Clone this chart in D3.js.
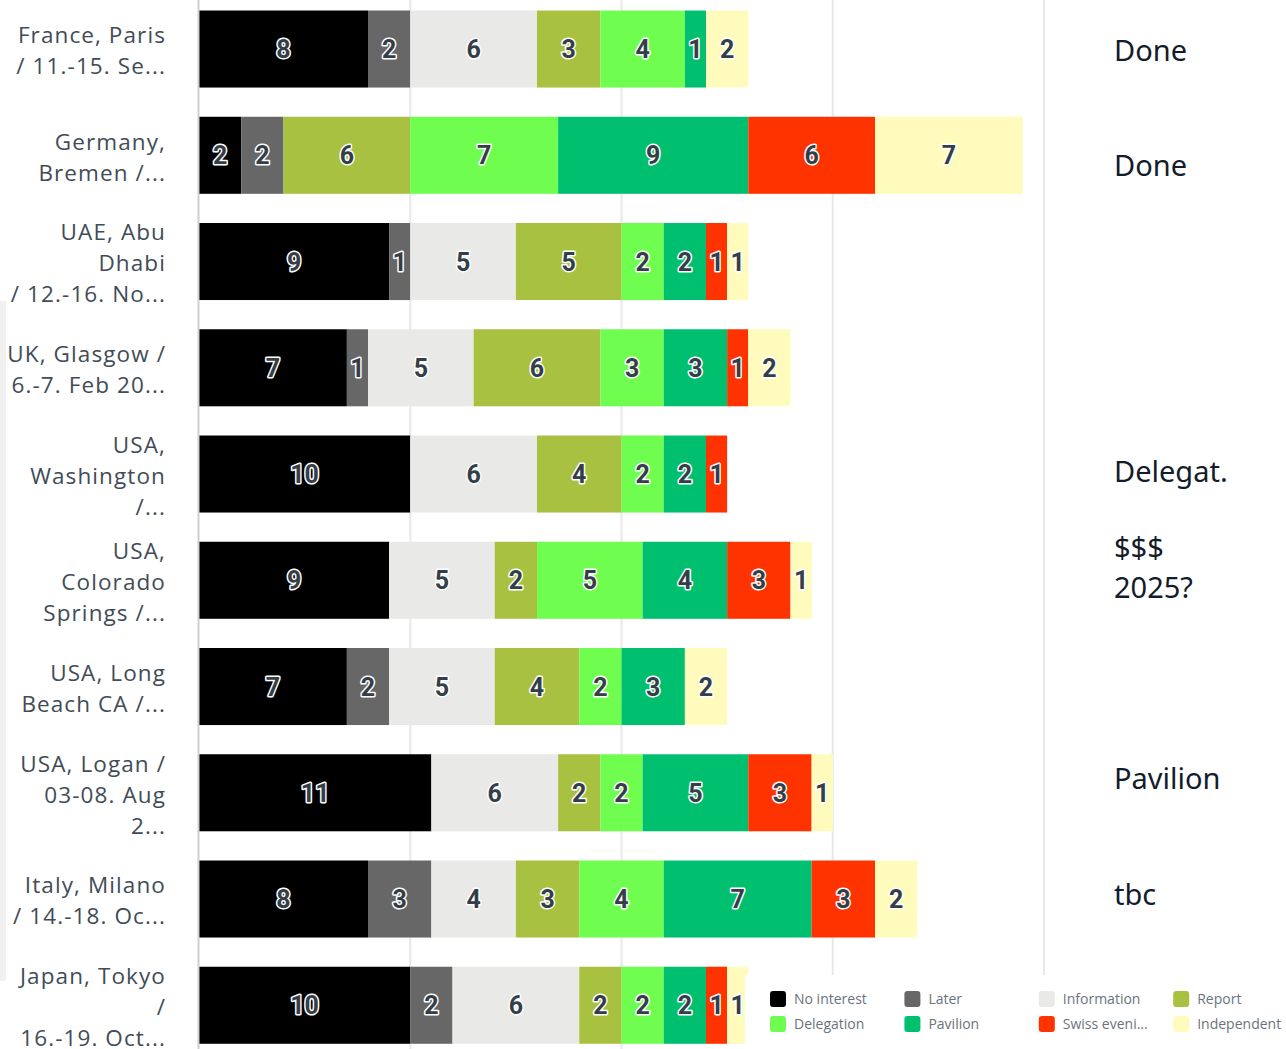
<!DOCTYPE html>
<html>
<head>
  <meta charset="utf-8" />
  <script src="https://d3js.org/d3.v7.min.js"></script>
  <style>
    * {
      margin: 0;
      padding: 0;
      box-sizing: border-box;
    }

    body {
      background-color: #ffffff;
      overflow: hidden;
    }

    svg {
      display: block;
    }

    .row-label {
      font-family: "Open Sans", sans-serif;
      font-size: 22.5px;
      letter-spacing: 1.1px;
      fill: #414c57;
    }

    .value-label {
      font-family: Roboto, sans-serif;
      font-weight: 700;
      font-size: 25px;
      fill: #333e48;
      stroke: #ffffff;
      stroke-width: 3px;
      paint-order: stroke;
      stroke-linejoin: round;
    }

    .note {
      font-family: "Noto Sans", sans-serif;
      font-size: 29px;
      fill: #121c2b;
    }

    .legend-text {
      font-family: "Open Sans", sans-serif;
      font-size: 14px;
      fill: #6a737d;
    }
  </style>
</head>
<body>
  <svg></svg>

  <script>
    const width = 1286;
    const height = 1049;

    // Row labels (already wrapped and truncated like the survey tool does)
    const events = [
      ["France, Paris", "/ 11.-15. Se..."],
      ["Germany,", "Bremen /..."],
      ["UAE, Abu", "Dhabi", "/ 12.-16. No..."],
      ["UK, Glasgow /", "6.-7. Feb 20..."],
      ["USA,", "Washington", "/..."],
      ["USA,", "Colorado", "Springs /..."],
      ["USA, Long", "Beach CA /..."],
      ["USA, Logan /", "03-08. Aug", "2..."],
      ["Italy, Milano", "/ 14.-18. Oc..."],
      ["Japan, Tokyo", "/", "16.-19. Oct..."]
    ];

    // Answer categories (stack order) and legend labels
    const categories = ["No interest", "Later", "Information", "Report", "Delegation", "Pavilion", "Swiss eveni...", "Independent"];
    const colors = ["#000000", "#676767", "#e9e9e7", "#a8c140", "#6ffd4f", "#00bf6f", "#ff3300", "#fffbbd"];

    // Counts per category, one value per event (same order as events)
    const noInterest  = [8, 2, 9, 7, 10, 9, 7, 11, 8, 10];
    const later       = [2, 2, 1, 1, 0, 0, 2, 0, 3, 2];
    const information = [6, 0, 5, 5, 6, 5, 5, 6, 4, 6];
    const report      = [3, 6, 5, 6, 4, 2, 4, 2, 3, 2];
    const delegation  = [4, 7, 2, 3, 2, 5, 2, 2, 4, 2];
    const pavilion    = [1, 9, 2, 3, 2, 4, 3, 5, 7, 2];
    const swissEvening = [0, 6, 1, 1, 1, 3, 0, 3, 3, 1];
    const independent = [2, 7, 1, 2, 0, 1, 2, 1, 2, 1];

    const xTicks = [0, 10, 20, 30, 40];

    // Hand-written notes on the right side: row index + text lines
    const notes = [
      { row: 0, lines: ["Done"] },
      { row: 1, lines: ["Done"] },
      { row: 4, lines: ["Delegat."] },
      { row: 5, lines: ["$$$", "2025?"] },
      { row: 7, lines: ["Pavilion"] },
      { row: 8, lines: ["tbc"] }
    ];
    const noteNudge = [2, 11, -2, -12, -14, -4]; // notes were placed by hand, not centred

    const series = [noInterest, later, information, report, delegation, pavilion, swissEvening, independent];

    // Build one record per event for d3.stack
    const table = events.map((e, i) => {
      const row = { idx: i };
      categories.forEach((c, k) => { row[c] = series[k][i]; });
      return row;
    });

    const stacked = d3.stack().keys(categories)(table);

    const svg = d3.select("svg").attr("width", width).attr("height", height);

    const x = d3.scaleLinear().domain([0, 40]).range([199, 1044]);

    const y = d3.scaleBand()
      .domain(d3.range(events.length))
      .range([-18.7, 1073])
      .paddingInner(0.275)
      .paddingOuter(0.275);

    // light strip on the far left edge
    svg.append("rect")
      .attr("x", 0).attr("y", 301).attr("width", 6).attr("height", 680)
      .attr("fill", "#f1f1f1");

    // Gridlines
    svg.append("g")
      .selectAll("line")
      .data(xTicks.slice(1))
      .join("line")
      .attr("x1", d => x(d)).attr("x2", d => x(d))
      .attr("y1", 0).attr("y2", d => d === 40 ? 975 : height)
      .attr("stroke", "#e8e8e8")
      .attr("stroke-width", 2);

    // Bars
    const layers = svg.append("g")
      .selectAll("g")
      .data(stacked)
      .join("g")
      .attr("fill", (d, i) => colors[i]);

    layers.selectAll("rect")
      .data(d => d.filter(p => p[1] - p[0] > 0))
      .join("rect")
      .attr("x", d => x(d[0]))
      .attr("y", d => y(d.data.idx))
      .attr("width", d => x(d[1]) - x(d[0]))
      .attr("height", y.bandwidth());

    // Value labels inside each segment
    layers.selectAll("text")
      .data(d => d.filter(p => p[1] - p[0] > 0))
      .join("text")
      .attr("class", "value-label")
      .attr("x", d => (x(d[0]) + x(d[1])) / 2)
      .attr("y", d => y(d.data.idx) + y.bandwidth() / 2)
      .attr("dy", "0.36em")
      .attr("text-anchor", "middle")
      .text(d => d[1] - d[0]);

    // Axis line on the left
    svg.append("line")
      .attr("x1", x(0) - 0.5).attr("x2", x(0) - 0.5)
      .attr("y1", 0).attr("y2", height)
      .attr("stroke", "#cfcfcf")
      .attr("stroke-width", 2);

    // Row labels
    const lineH = 31;
    svg.append("g")
      .selectAll("text")
      .data(events)
      .join("text")
      .attr("class", "row-label")
      .attr("text-anchor", "end")
      .each(function (lines, i) {
        const cy = y(i) + y.bandwidth() / 2 + 2;
        const top = cy - (lines.length - 1) * lineH / 2;
        d3.select(this).selectAll("tspan")
          .data(lines)
          .join("tspan")
          .attr("x", 166)
          .attr("y", (l, j) => top + j * lineH)
          .attr("dy", "0.35em")
          .text(l => l);
      });

    // Notes on the right
    svg.append("g")
      .selectAll("text")
      .data(notes)
      .join("text")
      .attr("class", "note")
      .each(function (n, i) {
        const cy = y(n.row) + y.bandwidth() / 2 + noteNudge[i];
        const top = cy - (n.lines.length - 1) * 40 / 2;
        d3.select(this).selectAll("tspan")
          .data(n.lines)
          .join("tspan")
          .attr("x", 1114)
          .attr("y", (l, j) => top + j * 40)
          .attr("dy", "0.35em")
          .text(l => l);
      });

    // Legend box (sits on top of the last bar)
    const legend = svg.append("g");
    legend.append("rect")
      .attr("x", 745).attr("y", 975)
      .attr("width", width - 745).attr("height", height - 975)
      .attr("fill", "#ffffff");

    const items = legend.selectAll("g")
      .data(categories)
      .join("g")
      .attr("transform", (d, i) => `translate(${770 + (i % 4) * 134.4},${999 + Math.floor(i / 4) * 25})`);

    items.append("rect")
      .attr("x", 0).attr("y", -8)
      .attr("width", 16).attr("height", 16)
      .attr("rx", 3)
      .attr("fill", (d, i) => colors[i]);

    items.append("text")
      .attr("class", "legend-text")
      .attr("x", 24)
      .attr("dy", "0.35em")
      .text(d => d);
  </script>
</body>
</html>
